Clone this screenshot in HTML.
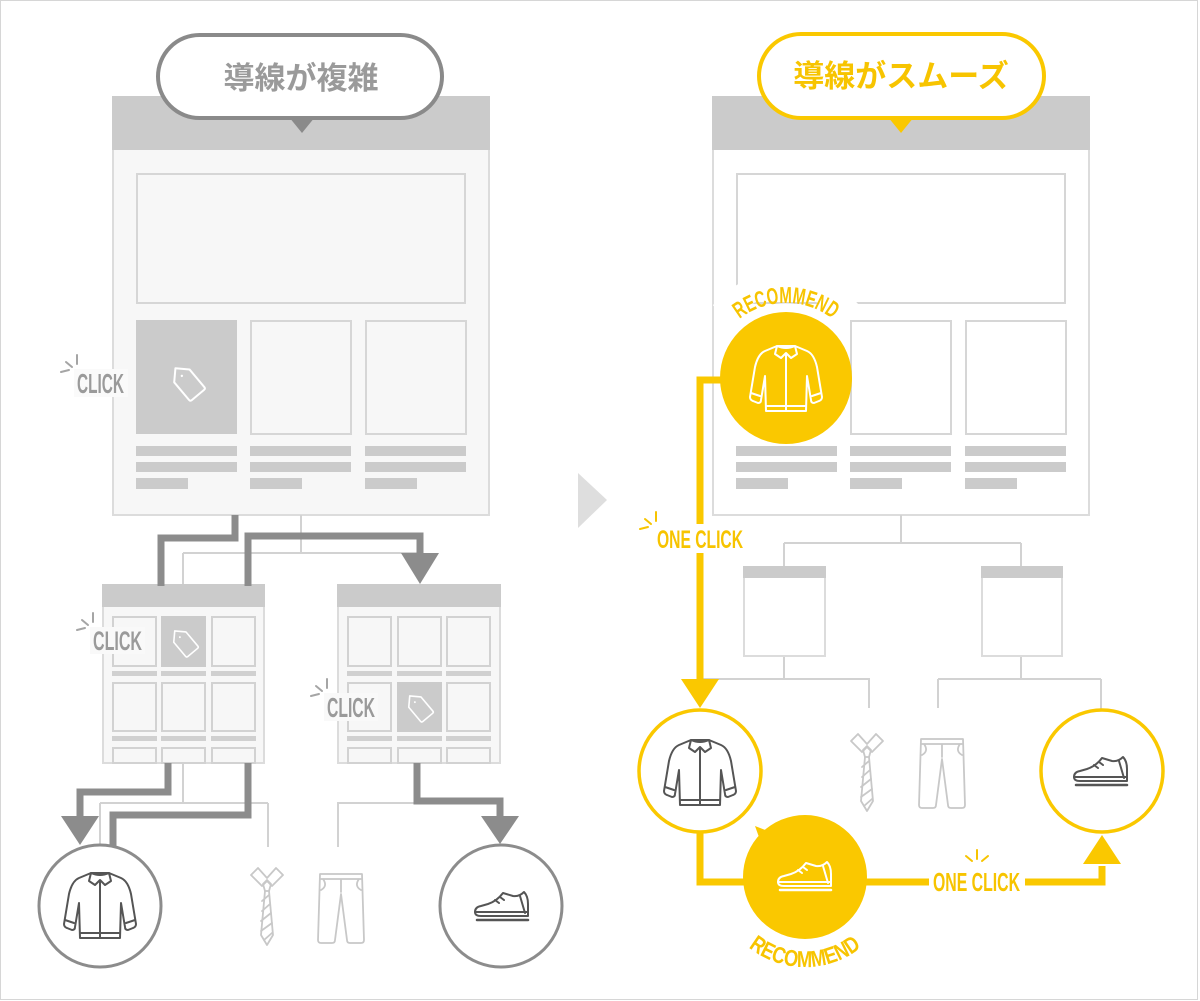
<!DOCTYPE html>
<html><head><meta charset="utf-8"><style>html,body{margin:0;padding:0;background:#fff}svg{display:block}</style></head><body>
<svg width="1200" height="1001" viewBox="0 0 1200 1001" xmlns="http://www.w3.org/2000/svg" xmlns:xlink="http://www.w3.org/1999/xlink">
<defs>
  <g id="shirt" fill="none" stroke-linejoin="round" stroke-linecap="round">
    <path d="M27,3 L15,8 Q8,11 5,24 L0,54 Q0,57 3,58 L8,60 Q11,60 11,57 L15,33 L16,68 L56,68 L57,33 L61,57 Q61,60 64,60 L69,58 Q72,57 72,54 L67,24 Q64,11 57,8 L45,3 Z"/>
    <path d="M27,3 L25,11 L31,15 L36,10 L41,15 L47,11 L45,3 M27,3 Q36,7 45,3 M36,10 V68 M1,50 L10,53 M71,50 L62,53 M16,63 H56"/>
  </g>
  <g id="shoe" fill="none" stroke-linejoin="round" stroke-linecap="round">
    <path d="M7,14 Q1,15 1,20 Q1,24 7,24 L54,24 L54,12 Q54,4 50,0 Q45,5 39,4 L29,1 Q23,9 14,12 Z"/>
    <path d="M1,20 H54 M21,8 L25,11 M26,5 L30,8 M46,4 L51,21" />
    <path d="M3,28 H54" stroke-width="2.5"/>
  </g>
  <g id="tie" fill="none" stroke-linejoin="round" stroke-linecap="round">
    <path d="M3,8 L10,1 L19,11 L28,1 L35,8 L24,19 L19,14 L14,19 Z"/>
    <path d="M15,17 L19,13 L23,17 L21,24 L17,24 Z"/>
    <path d="M17,24 L13,68 L19,78 L25,68 L21,24"/>
    <path d="M14,34 L21,28 M14,44 L22,37 M13,54 L23,46 M13,64 L24,56 M16,73 L24,66"/>
  </g>
  <g id="pants" fill="none" stroke-linejoin="round" stroke-linecap="round">
    <path d="M3,2 H45 L47,68 Q47,71 44,71 L33,71 Q30,71 30,68 L24,22 L18,68 Q18,71 15,71 L4,71 Q1,71 1,68 Z"/>
    <path d="M3,7 H45 M6,7 Q11,14 4,18 M42,7 Q37,14 44,18 M24,7 V20"/>
  </g>
  <g id="tag" fill="none" stroke="#fff" stroke-width="2" stroke-linejoin="round">
    <path d="M0,-18 L10,-8 L10,15 Q10,17 8,17 L-8,17 Q-10,17 -10,15 L-10,-8 Z"/>
    <circle cx="0" cy="-8" r="1.2" fill="#fff" stroke="none"/>
  </g>
</defs>

<rect x="0.5" y="0.5" width="1197" height="999" fill="#fff" stroke="#d6d6d6" stroke-width="1"/>

<!-- ========== LEFT ========== -->
<rect x="113" y="97" width="376" height="418" fill="#f7f7f7" stroke="#dcdcdc" stroke-width="2"/>
<rect x="112" y="96" width="378" height="54" fill="#cbcbcb"/>
<rect x="137" y="174" width="328" height="129" fill="#f7f7f7" stroke="#d6d6d6" stroke-width="2"/>
<rect x="136" y="320" width="101" height="114" fill="#cbcbcb"/>
<rect x="251" y="321" width="100" height="113" fill="#f7f7f7" stroke="#d6d6d6" stroke-width="2"/>
<rect x="366" y="321" width="100" height="113" fill="#f7f7f7" stroke="#d6d6d6" stroke-width="2"/>
<g fill="#cbcbcb">
  <rect x="136" y="446" width="101" height="10"/><rect x="136" y="462" width="101" height="10"/><rect x="136" y="478" width="52" height="11"/>
  <rect x="250" y="446" width="101" height="10"/><rect x="250" y="462" width="101" height="10"/><rect x="250" y="478" width="52" height="11"/>
  <rect x="365" y="446" width="101" height="10"/><rect x="365" y="462" width="101" height="10"/><rect x="365" y="478" width="52" height="11"/>
</g>
<use href="#tag" xlink:href="#tag" transform="translate(187,382) rotate(-40)"/>

<rect x="158" y="35" width="284" height="83" rx="41.5" fill="#fff" stroke="#8a8a8a" stroke-width="4"/>
<polygon points="289,117 315,117 302,133" fill="#8a8a8a"/>
<text x="301" y="89" text-anchor="middle" font-family="'Liberation Sans','Noto Sans CJK JP',sans-serif" font-weight="700" font-size="31" fill="#9a9a9a">導線が複雑</text>

<g fill="none" stroke="#d2d2d2" stroke-width="2">
  <path d="M301,515 V553 M183,553 H420 M183,553 V585"/>
  <path d="M183,763 V803 M100,803 H268 M100,803 V846 M268,803 V847"/>
  <path d="M338,847 V803 H417"/>
</g>

<rect x="103" y="585" width="161" height="178" fill="#f7f7f7" stroke="#dcdcdc" stroke-width="2"/>
<rect x="102" y="584" width="163" height="23" fill="#cbcbcb"/>
<g fill="#f7f7f7" stroke="#d2d2d2" stroke-width="2">
  <rect x="113" y="617" width="43" height="49"/><rect x="212" y="617" width="43" height="49"/>
  <rect x="113" y="683" width="43" height="48"/><rect x="162" y="683" width="43" height="48"/><rect x="212" y="683" width="43" height="48"/>
  <rect x="113" y="748" width="43" height="15"/><rect x="162" y="748" width="43" height="15"/><rect x="212" y="748" width="43" height="15"/>
</g>
<rect x="161" y="616" width="45" height="51" fill="#cbcbcb"/>
<g fill="#d0d0d0">
  <rect x="112" y="671" width="45" height="5"/><rect x="161" y="671" width="45" height="5"/><rect x="211" y="671" width="45" height="5"/>
  <rect x="112" y="736" width="45" height="5"/><rect x="161" y="736" width="45" height="5"/><rect x="211" y="736" width="45" height="5"/>
</g>
<use href="#tag" xlink:href="#tag" transform="translate(184,642) rotate(-40) scale(0.8)"/>

<rect x="338" y="585" width="162" height="178" fill="#f7f7f7" stroke="#dcdcdc" stroke-width="2"/>
<rect x="337" y="584" width="164" height="23" fill="#cbcbcb"/>
<g fill="#f7f7f7" stroke="#d2d2d2" stroke-width="2">
  <rect x="348" y="617" width="43" height="49"/><rect x="398" y="617" width="43" height="49"/><rect x="447" y="617" width="43" height="49"/>
  <rect x="348" y="683" width="43" height="48"/><rect x="447" y="683" width="43" height="48"/>
  <rect x="348" y="748" width="43" height="15"/><rect x="398" y="748" width="43" height="15"/><rect x="447" y="748" width="43" height="15"/>
</g>
<rect x="397" y="682" width="45" height="50" fill="#cbcbcb"/>
<g fill="#d0d0d0">
  <rect x="347" y="671" width="45" height="5"/><rect x="397" y="671" width="45" height="5"/><rect x="446" y="671" width="45" height="5"/>
  <rect x="347" y="736" width="45" height="5"/><rect x="397" y="736" width="45" height="5"/><rect x="446" y="736" width="45" height="5"/>
</g>
<use href="#tag" xlink:href="#tag" transform="translate(419,707) rotate(-40) scale(0.8)"/>

<g fill="none" stroke="#8c8c8c" stroke-width="7" stroke-linejoin="miter">
  <path d="M235,515 V538 H161 V586"/>
  <path d="M248,586 V536 H420 V556"/>
  <path d="M168,763 V792 H80 V818"/>
  <path d="M248,763 V815 H113 V847"/>
  <path d="M417,763 V801 H500 V818"/>
</g>
<g fill="#8c8c8c">
  <polygon points="401,553 439,553 420,584"/>
  <polygon points="61,816 99,816 80,845"/>
  <polygon points="481,816 519,816 500,844"/>
</g>

<g font-family="'Liberation Sans',sans-serif" font-weight="700" fill="#9a9a9a">
  <rect x="74" y="369" width="54" height="28" fill="#fafafa"/>
  <text x="77" y="393" font-size="28" textLength="47" lengthAdjust="spacingAndGlyphs">CLICK</text>
  <rect x="90" y="627" width="55" height="27" fill="#f9f9f9"/>
  <text x="93" y="650" font-size="27" textLength="49" lengthAdjust="spacingAndGlyphs">CLICK</text>
  <rect x="324" y="693" width="54" height="28" fill="#f9f9f9"/>
  <text x="327" y="717" font-size="28" textLength="48" lengthAdjust="spacingAndGlyphs">CLICK</text>
</g>
<g stroke="#a5a5a5" stroke-width="2" stroke-linecap="round">
  <path d="M61,372 L69,370 M66,362 L72,367 M77,355 L77,364"/>
  <path d="M77,630 L85,628 M82,620 L88,625 M93,613 L93,622"/>
  <path d="M311,696 L319,694 M316,686 L322,691 M327,679 L327,688"/>
</g>

<circle cx="100" cy="906" r="61" fill="#fff" stroke="#8c8c8c" stroke-width="3"/>
<circle cx="501" cy="906" r="61" fill="#fff" stroke="#8c8c8c" stroke-width="3"/>
<use href="#shirt" xlink:href="#shirt" transform="translate(64,870)" stroke="#555" stroke-width="2"/>
<use href="#shoe" xlink:href="#shoe" transform="translate(474,892)" stroke="#555" stroke-width="2"/>
<use href="#tie" xlink:href="#tie" transform="translate(248,867)" stroke="#c8c8c8" stroke-width="1.8"/>
<use href="#pants" xlink:href="#pants" transform="translate(317,872)" stroke="#c8c8c8" stroke-width="1.8"/>

<polygon points="578,473 607,500 578,528" fill="#dedede"/>

<!-- ========== RIGHT ========== -->
<rect x="713" y="97" width="376" height="418" fill="#fff" stroke="#dcdcdc" stroke-width="2"/>
<rect x="712" y="96" width="378" height="54" fill="#cbcbcb"/>
<rect x="737" y="174" width="328" height="129" fill="#fff" stroke="#d6d6d6" stroke-width="2"/>
<rect x="851" y="321" width="100" height="113" fill="#fff" stroke="#d6d6d6" stroke-width="2"/>
<rect x="966" y="321" width="100" height="113" fill="#fff" stroke="#d6d6d6" stroke-width="2"/>
<g fill="#cbcbcb">
  <rect x="736" y="446" width="101" height="10"/><rect x="736" y="462" width="101" height="10"/><rect x="736" y="478" width="52" height="11"/>
  <rect x="850" y="446" width="101" height="10"/><rect x="850" y="462" width="101" height="10"/><rect x="850" y="478" width="52" height="11"/>
  <rect x="965" y="446" width="101" height="10"/><rect x="965" y="462" width="101" height="10"/><rect x="965" y="478" width="52" height="11"/>
</g>

<rect x="759" y="34" width="285" height="84" rx="42" fill="#fff" stroke="#fac800" stroke-width="4"/>
<polygon points="888,117 914,117 901,133" fill="#fac800"/>
<text x="901" y="87" text-anchor="middle" font-family="'Liberation Sans','Noto Sans CJK JP',sans-serif" font-weight="700" font-size="31" fill="#f7c400">導線がスムーズ</text>

<g fill="none" stroke="#d2d2d2" stroke-width="2">
  <path d="M901,515 V543 M784,543 H1021 M784,543 V567 M1021,543 V567"/>
  <path d="M784,656 V679 M700,679 H869 V708 M1021,656 V679 M938,679 H1101 M938,679 V708 M1101,679 V710"/>
</g>
<rect x="744" y="567" width="81" height="89" fill="#fff" stroke="#dcdcdc" stroke-width="2"/>
<rect x="743" y="566" width="83" height="12" fill="#cbcbcb"/>
<rect x="982" y="567" width="80" height="89" fill="#fff" stroke="#dcdcdc" stroke-width="2"/>
<rect x="981" y="566" width="82" height="12" fill="#cbcbcb"/>

<path d="M722,313 A84,84 0 0 1 850,313" fill="none" stroke="#fff" stroke-width="24"/>
<path d="M732,324 A84,84 0 0 1 840,324" fill="none" stroke="#fff" stroke-width="2"/>
<circle cx="786" cy="378" r="66" fill="#fac800"/>
<path id="arcTop" d="M721,340.5 A75,75 0 0 1 851,340.5" fill="none"/>
<text font-family="'Liberation Sans',sans-serif" font-weight="700" font-size="23" fill="#f7c400"><textPath href="#arcTop" xlink:href="#arcTop" startOffset="50%" text-anchor="middle" textLength="100" lengthAdjust="spacingAndGlyphs">RECOMMEND</textPath></text>
<use href="#shirt" xlink:href="#shirt" transform="translate(750,343)" stroke="#fff" stroke-width="2"/>

<g fill="none" stroke="#fac800" stroke-width="7" stroke-linejoin="miter">
  <path d="M722,380 H700 V682"/>
  <path d="M700,832 V882 H746"/>
  <path d="M864,882 H1102 V866"/>
</g>
<g fill="#fac800">
  <polygon points="681,679 719,679 700,708"/>
  <polygon points="1083,864 1121,864 1102,835"/>
</g>

<rect x="652" y="524" width="96" height="29" fill="#fff"/>
<rect x="929" y="866" width="96" height="30" fill="#fff"/>
<g font-family="'Liberation Sans',sans-serif" font-weight="700" fill="#f7c400">
  <text x="657" y="548" font-size="25" textLength="86" lengthAdjust="spacingAndGlyphs">ONE CLICK</text>
  <text x="933" y="891" font-size="26" textLength="87" lengthAdjust="spacingAndGlyphs">ONE CLICK</text>
</g>
<g stroke="#f7c400" stroke-width="2" stroke-linecap="round">
  <path d="M640,529 L648,527 M645,519 L651,524 M656,512 L656,521"/>
  <path d="M977,850 L977,859 M966,856 L972,861 M988,856 L982,861"/>
</g>

<circle cx="700" cy="771" r="61" fill="#fff" stroke="#fac800" stroke-width="3.5"/>
<circle cx="1102" cy="771" r="61" fill="#fff" stroke="#fac800" stroke-width="3.5"/>
<use href="#shirt" xlink:href="#shirt" transform="translate(664,737)" stroke="#555" stroke-width="2"/>
<use href="#shoe" xlink:href="#shoe" transform="translate(1073,757)" stroke="#555" stroke-width="2"/>
<use href="#tie" xlink:href="#tie" transform="translate(848,733)" stroke="#c8c8c8" stroke-width="1.8"/>
<use href="#pants" xlink:href="#pants" transform="translate(918,737)" stroke="#c8c8c8" stroke-width="1.8"/>

<polygon points="755,826 768,831 760,840" fill="#fac800"/>
<circle cx="805" cy="877" r="62" fill="#fac800"/>
<use href="#shoe" xlink:href="#shoe" transform="translate(777,862)" stroke="#fff" stroke-width="2"/>
<path id="arcBot" d="M727,922 A90,90 0 0 0 883,922" fill="none"/>
<text font-family="'Liberation Sans',sans-serif" font-weight="700" font-size="23" fill="#f7c400"><textPath href="#arcBot" xlink:href="#arcBot" startOffset="50%" text-anchor="middle" textLength="122" lengthAdjust="spacingAndGlyphs">RECOMMEND</textPath></text>

</svg>
</body></html>
